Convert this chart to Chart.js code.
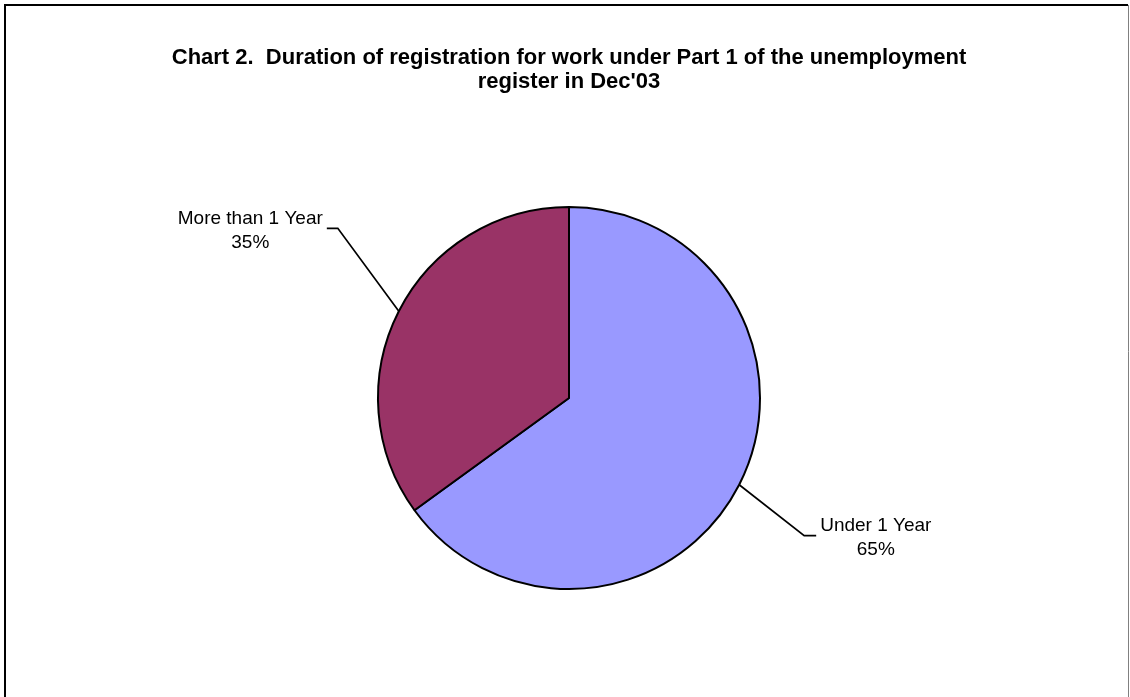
<!DOCTYPE html>
<html>
<head>
<meta charset="utf-8">
<script src="https://cdn.jsdelivr.net/npm/chart.js@4"></script>
<style>
  html, body { margin: 0; padding: 0; background: #fff; }
  canvas { display: block; }
</style>
</head>
<body>
<canvas id="myChart" width="1130" height="697"></canvas>
<script>
const categories = ["Under 1 Year", "More than 1 Year"];
const shares = [65, 35];
const titleLines = [
  "Chart 2.  Duration of registration for work under Part 1 of the unemployment",
  "register in Dec'03"
];

const sliceColors = ["#9999FF", "#993366"];
const fontFamily = "'Liberation Sans', Arial, Helvetica, sans-serif";

// leader line shape per slice: elbow offset from arc edge, then horizontal tail
const leaders = [
  { dx: 65, dy: 51, tail: 12 },
  { dx: -61, dy: -83, tail: -11 }
];

const frame = {
  id: "frame",
  beforeDraw(chart) {
    const c = chart.ctx;
    c.save();
    c.fillStyle = "#fff";
    c.fillRect(0, 0, chart.width, chart.height);
    c.strokeStyle = "#000";
    c.lineWidth = 2;
    c.beginPath();
    c.moveTo(5, chart.height + 2);
    c.lineTo(5, 5);
    c.lineTo(1128, 5);
    c.stroke();
    c.strokeStyle = "#808080";
    c.lineWidth = 1;
    c.beginPath();
    c.moveTo(1128.5, 5);
    c.lineTo(1128.5, chart.height + 2);
    c.stroke();
    c.restore();
  }
};

const sliceLabels = {
  id: "sliceLabels",
  afterDatasetsDraw(chart) {
    const c = chart.ctx;
    const meta = chart.getDatasetMeta(0);
    const vals = chart.data.datasets[0].data;
    const total = vals.reduce((a, b) => a + b, 0);
    c.save();
    c.font = "19px " + fontFamily;
    c.fillStyle = "#000";
    c.strokeStyle = "#000";
    c.lineWidth = 1.7;
    c.textBaseline = "middle";
    c.textAlign = "center";
    meta.data.forEach((arc, i) => {
      const p = arc.getProps(["x", "y", "startAngle", "endAngle", "outerRadius"], true);
      const mid = (p.startAngle + p.endAngle) / 2;
      const ex = p.x + Math.cos(mid) * p.outerRadius;
      const ey = p.y + Math.sin(mid) * p.outerRadius;
      const L = leaders[i];
      const bx = ex + L.dx, by = ey + L.dy;
      const tx = bx + L.tail;
      c.beginPath();
      c.moveTo(ex, ey);
      c.lineTo(bx, by);
      c.lineTo(tx, by);
      c.stroke();
      const lines = [chart.data.labels[i], Math.round(vals[i] / total * 100) + "%"];
      const w = Math.max(...lines.map(s => c.measureText(s).width));
      const cx = L.tail > 0 ? tx + 4 + w / 2 : tx - 4 - w / 2;
      const lh = 24;
      lines.forEach((s, k) => {
        c.fillText(s, cx, by + 2 + (k - (lines.length - 1) / 2) * lh);
      });
    });
    c.restore();
  }
};

const ctx = document.getElementById("myChart").getContext("2d");
new Chart(ctx, {
  type: "pie",
  data: {
    labels: categories,
    datasets: [{
      data: shares,
      backgroundColor: sliceColors,
      borderColor: "#000",
      borderWidth: 2,
      hoverOffset: 0
    }]
  },
  options: {
    responsive: false,
    animation: false,
    devicePixelRatio: 1,
    layout: { padding: { left: 8, right: 0, top: 0, bottom: 107 } },
    plugins: {
      legend: { display: false },
      tooltip: { enabled: false },
      title: {
        display: true,
        text: titleLines,
        color: "#000",
        font: { family: fontFamily, size: 22, weight: "bold", lineHeight: 1.1 },
        padding: { top: 46, bottom: 111.6 }
      }
    }
  },
  plugins: [frame, sliceLabels]
});
</script>
</body>
</html>
